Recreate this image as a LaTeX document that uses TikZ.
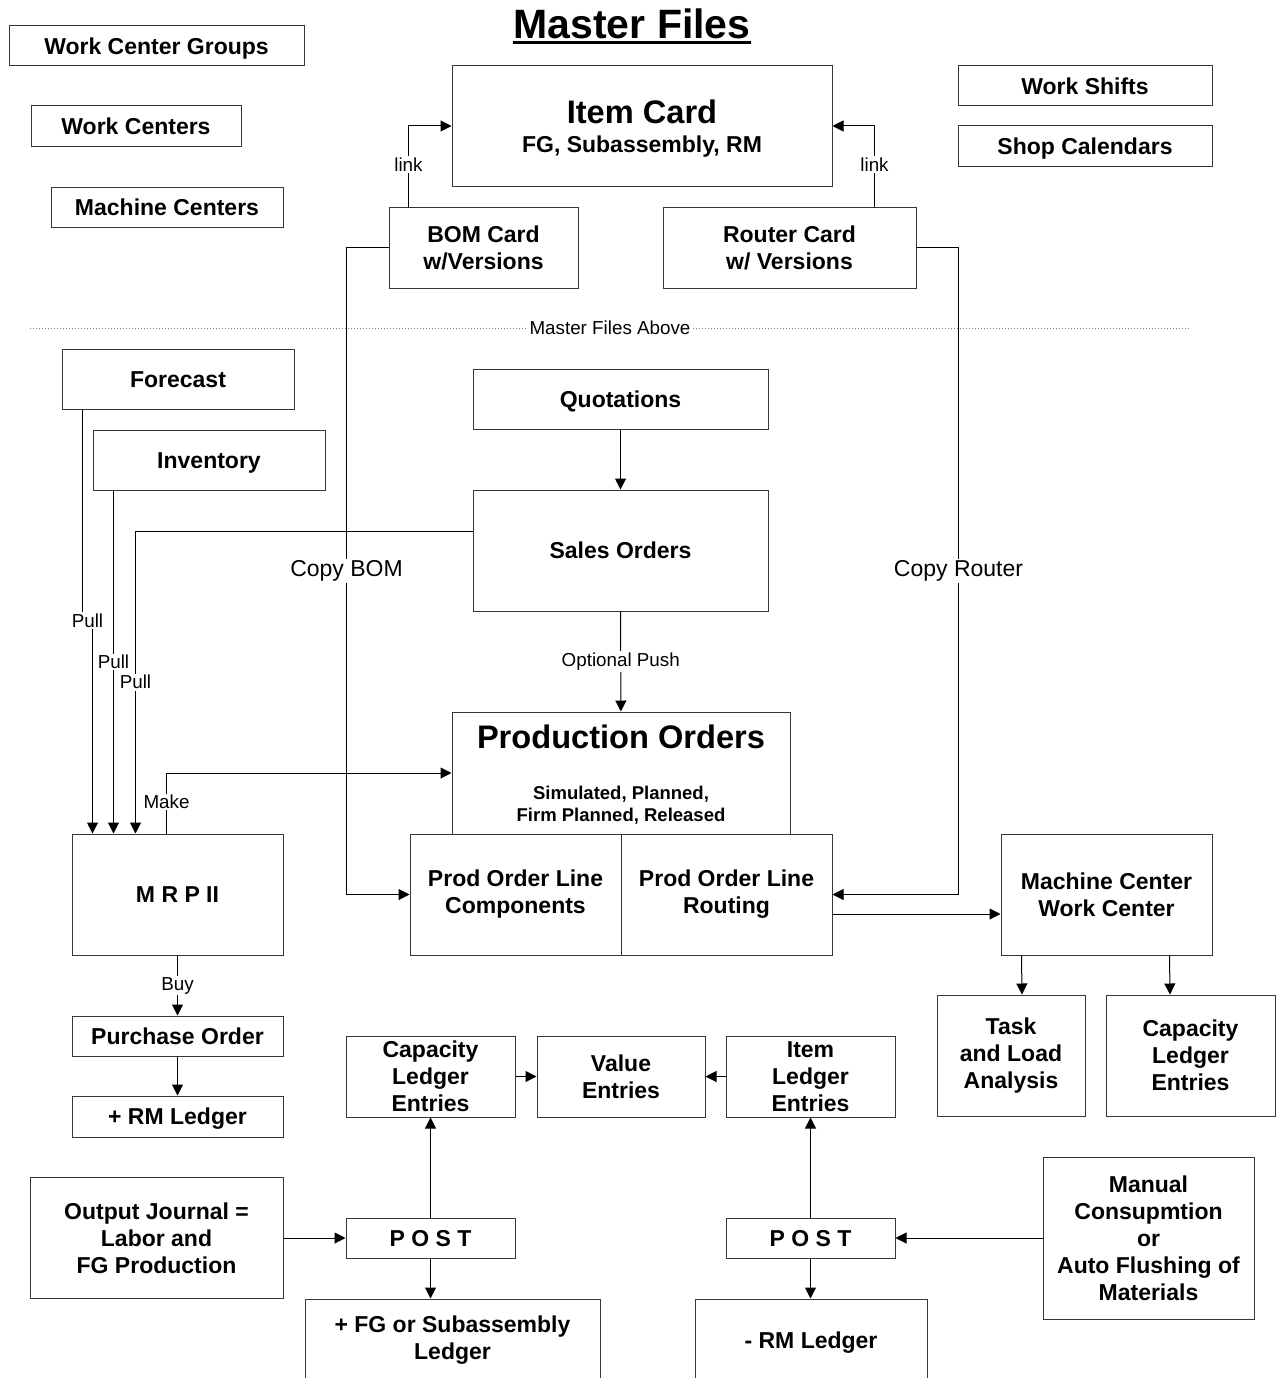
\documentclass[tikz,border=0pt]{standalone}
\usepackage{fontspec}
\setmainfont{Liberation Sans}
\usepackage{tikz}
\usetikzlibrary{positioning,arrows.meta}
\definecolor{lineclr}{RGB}{55,55,55}
\tikzset{
  box/.style={rectangle,draw=lineclr,line width=1pt,fill=white,align=center,
              inner sep=2pt,font=\fontsize{23}{27}\selectfont\bfseries},
  oneline/.style={text height=16.5pt,text depth=0pt},
  bigtxt/.style={inner sep=0pt,font=\fontsize{32.6}{36}\selectfont\bfseries},
  midtxt/.style={inner sep=0pt,oneline,font=\fontsize{23}{27}\selectfont\bfseries},
  subtxt/.style={inner sep=0pt,align=center,
                 font=\fontsize{18.5}{22}\selectfont\bfseries},
  lbl/.style={fill=white,inner sep=1.5pt,font=\fontsize{18.8}{22}\selectfont},
  biglbl/.style={lbl,font=\fontsize{23}{27}\selectfont},
  arr/.style={-{Triangle[length=11pt,width=11pt]},draw=black,line width=1pt},
  sepline/.style={dotted,draw=gray,line width=1pt},
}
\begin{document}
\begin{tikzpicture}[x=1pt,y=-1pt]
\path[use as bounding box] (0,0) rectangle (1278,1378);
\clip (0,0) rectangle (1278,1378);
% master files
\node[inner sep=0pt,font=\fontsize{41}{44}\selectfont\bfseries] (title)
      at (632,24) {Master Files};
\draw[line width=2.5pt] ([yshift=-3pt]title.south west) -- ([yshift=-3pt]title.south east);
\node[box, oneline, minimum width=295pt, minimum height=40pt] (wcg) at (156.5,46) {Work Center Groups};
\node[box, oneline, minimum width=210pt, minimum height=40pt] (wc) at (136,126) {Work Centers};
\node[box, oneline, minimum width=232pt, minimum height=40pt] (mc) at (167,207) {Machine Centers};
\node[box, oneline, minimum width=254pt, minimum height=40pt] (shifts) at (1085,86) {Work Shifts};
\node[box, oneline, minimum width=254pt, minimum height=40pt] (cal) at (1085,146) {Shop Calendars};
\node[box, minimum width=380pt, minimum height=120pt] (item) at (642,126) {};
\node[bigtxt] (itemttl) at (642,112) {Item Card};
\node[midtxt] (itemsub) at (642,144) {FG, Subassembly, RM};
\node[box, minimum width=189pt, minimum height=81pt] (bom) at (483.5,247.5)
      {BOM Card\\w/Versions};
\node[box, minimum width=253pt, minimum height=81pt] (router) at (789.5,247.5)
      {Router Card\\w/ Versions};
\draw[arr] ([xshift=20pt]bom.north west) |- node[lbl,pos=0.26] {link} (item.west);
\draw[arr] ([xshift=-42pt]router.north east) |- node[lbl,pos=0.26] {link} (item.east);
\coordinate (sepL) at (30,328);
\coordinate (sepR) at (1190,328);
\draw[sepline] (sepL) -- node[lbl] {Master Files Above} (sepR);
% orders
\node[box, oneline, minimum width=232pt, minimum height=60pt] (forecast) at (178,379) {Forecast};
\node[box, oneline, minimum width=232pt, minimum height=60pt] (inventory) at (209,460) {Inventory};
\node[box, oneline, minimum width=295pt, minimum height=60pt] (quot) at (620.5,399) {Quotations};
\node[box, oneline, minimum width=295pt, minimum height=121pt] (sales) at (620.5,550.5) {Sales Orders};
\node[box, minimum width=338pt, minimum height=122pt] (prod) at (621,773) {};
\node[bigtxt] (prodttl) at (621,737) {Production Orders};
\node[subtxt] (prodsub) at (621,805) {Simulated, Planned,\\Firm Planned, Released};
\node[box, minimum width=211pt, minimum height=121pt] (comp) at (515.5,894.5)
      {Prod Order Line\\Components};
\node[box, minimum width=211pt, minimum height=121pt] (routing) at (726.5,894.5)
      {Prod Order Line\\Routing};
\node[box, oneline, minimum width=211pt, minimum height=121pt] (mrp) at (177.5,894.5) {M R P II};
\node[box, minimum width=211pt, minimum height=121pt] (mcwc) at (1106.5,894.5)
      {Machine Center\\Work Center};
\node[box, minimum width=148pt, minimum height=121pt] (task) at (1011,1055.5)
      {Task\\and Load\\Analysis};
\node[box, minimum width=169pt, minimum height=121pt] (capr) at (1190.5,1055.5)
      {Capacity\\Ledger\\Entries};
\draw[arr] (quot) -- (sales);
\draw[arr] (sales) -- node[lbl] {Optional Push} (prod);
\draw[arr] ([xshift=21pt]forecast.south west) -- ++(0,211)
      -| node[lbl,pos=0.25] {Pull} ([xshift=21pt]mrp.north west);
\draw[arr] ([xshift=21pt]inventory.south west) -- node[lbl] {Pull}
      ([xshift=42pt]mrp.north west);
\draw[arr] ([yshift=19.5pt]sales.west) -| node[lbl,pos=0.75] {Pull}
      ([xshift=64pt]mrp.north west);
\draw[arr] ([xshift=95pt]mrp.north west) |- node[lbl,pos=0.26] {Make} (prod.west);
\draw[arr] (bom.west) -- ++(-42,0) |- node[biglbl,pos=0.25] {Copy BOM} (comp.west);
\draw[arr] (router.east) -- ++(42,0) |- node[biglbl,pos=0.25] {Copy Router} (routing.east);
\draw[arr] ([yshift=-19.5pt]routing.east) -- ([yshift=-19.5pt]mcwc.west);
\draw[arr] ([xshift=21pt]mcwc.south west) -- ([xshift=11pt]task.north);
\draw[arr] ([xshift=169pt]mcwc.south west) -- ([xshift=-20.5pt]capr.north);
% posting
\node[box, oneline, minimum width=211pt, minimum height=40pt] (po) at (177.5,1036) {Purchase Order};
\node[box, oneline, minimum width=211pt, minimum height=41pt] (rmplus) at (177.5,1116.5) {+ RM Ledger};
\node[box, minimum width=169pt, minimum height=81pt] (capm) at (430.5,1076.5)
      {Capacity\\Ledger\\Entries};
\node[box, minimum width=168pt, minimum height=81pt] (value) at (621,1076.5) {Value\\Entries};
\node[box, minimum width=169pt, minimum height=81pt] (iledger) at (810.5,1076.5)
      {Item\\Ledger\\Entries};
\node[box, minimum width=253pt, minimum height=121pt] (outj) at (156.5,1238)
      {Output Journal =\\Labor and\\FG Production};
\node[box, oneline, minimum width=169pt, minimum height=40pt] (postl) at (430.5,1238) {P O S T};
\node[box, oneline, minimum width=169pt, minimum height=40pt] (postr) at (810.5,1238) {P O S T};
\node[box, minimum width=295pt, minimum height=82pt] (fgl) at (452.5,1340)
      {+ FG or Subassembly\\Ledger};
\node[box, oneline, minimum width=232pt, minimum height=82pt] (rmminus) at (811,1340) {- RM Ledger};
\node[box, minimum width=211pt, minimum height=162pt] (manual) at (1148.5,1238)
      {Manual\\Consupmtion\\or\\Auto Flushing of\\Materials};
\draw[arr] (mrp) -- node[lbl] {Buy} (po);
\draw[arr] (po) -- (rmplus);
\draw[arr] (outj) -- (postl);
\draw[arr] (postl) -- (capm);
\draw[arr] (postl.south) -- (postl.south |- fgl.north);
\draw[arr] (capm) -- (value);
\draw[arr] (iledger) -- (value);
\draw[arr] (postr) -- (iledger);
\draw[arr] (postr.south) -- (postr.south |- rmminus.north);
\draw[arr] (manual) -- (postr);
\end{tikzpicture}
\end{document}
